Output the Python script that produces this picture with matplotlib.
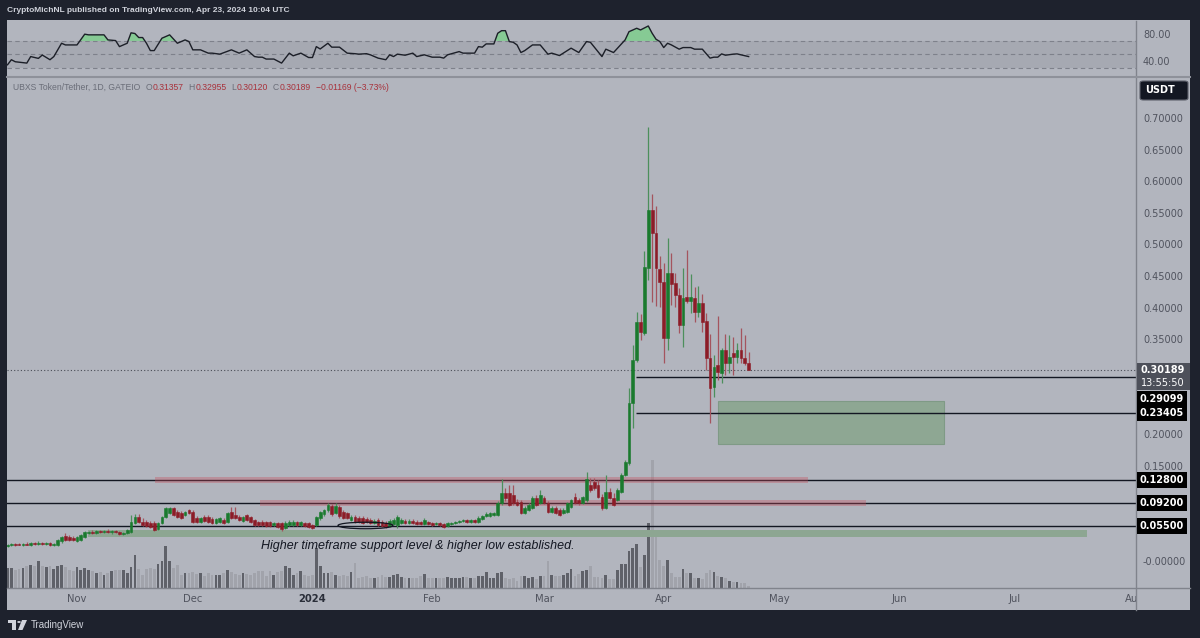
import numpy as np
import pandas as pd
import matplotlib
matplotlib.use("Agg")
import matplotlib.pyplot as plt
from matplotlib.patches import Rectangle, Ellipse, Circle, Polygon, FancyBboxPatch
from matplotlib.lines import Line2D

# ---------------- data ----------------
first_day = "2023-10-14"
origin = pd.Timestamp("2023-11-01")

opens = [
    0.0237, 0.0253, 0.0269, 0.0269, 0.0253, 0.0269, 0.0253, 0.0284, 0.0269, 0.0284,
    0.0269, 0.0284, 0.0253, 0.0253, 0.0316, 0.0395, 0.0379, 0.0363, 0.0316, 0.0332,
    0.0379, 0.0442, 0.0458, 0.0442, 0.0474, 0.0458, 0.0474, 0.0458, 0.0474, 0.0458,
    0.0427, 0.0442, 0.0458, 0.0600, 0.0695, 0.0616, 0.0616, 0.0600, 0.0600, 0.0506,
    0.0600, 0.0695, 0.0758, 0.0837, 0.0774, 0.0758, 0.0727, 0.0806, 0.0774, 0.0679,
    0.0616, 0.0695, 0.0695, 0.0664, 0.0600, 0.0616, 0.0648, 0.0616, 0.0774, 0.0727,
    0.0695, 0.0632, 0.0727, 0.0695, 0.0648, 0.0616, 0.0616, 0.0616, 0.0616, 0.0569,
    0.0600, 0.0600, 0.0521, 0.0569, 0.0569, 0.0616, 0.0569, 0.0600, 0.0600, 0.0569,
    0.0569, 0.0679, 0.0742, 0.0806, 0.0869, 0.0758, 0.0853, 0.0774, 0.0758, 0.0648,
    0.0695, 0.0679, 0.0679, 0.0664, 0.0648, 0.0600, 0.0648, 0.0616, 0.0600, 0.0553,
    0.0585, 0.0569, 0.0600, 0.0632, 0.0600, 0.0632, 0.0616, 0.0616, 0.0585, 0.0616,
    0.0600, 0.0585, 0.0600, 0.0585, 0.0553, 0.0585, 0.0600, 0.0616, 0.0632, 0.0648,
    0.0616, 0.0648, 0.0616, 0.0664, 0.0711, 0.0711, 0.0727, 0.0727, 0.0916, 0.1074,
    0.1074, 0.1043, 0.0932, 0.0932, 0.0758, 0.0806, 0.0837, 0.0995, 0.0916, 0.0995,
    0.0916, 0.0774, 0.0837, 0.0806, 0.0758, 0.0774, 0.0853, 0.1011, 0.0964, 0.0916,
    0.0964, 0.1201, 0.1248, 0.1201, 0.1011, 0.0837, 0.1090, 0.0995, 0.0964, 0.1090,
    0.1359, 0.1548, 0.2496, 0.3175, 0.3776, 0.3602, 0.4629, 0.5545, 0.5182, 0.4613,
    0.4408, 0.3523, 0.4550, 0.4392, 0.4202, 0.3728, 0.4171, 0.4107, 0.4155, 0.3934,
    0.4076, 0.3792, 0.3207, 0.2749, 0.3096, 0.2970, 0.3333, 0.3128, 0.3286, 0.3223,
    0.3333, 0.3207, 0.31357,
]
highs = [
    0.0269, 0.0284, 0.0284, 0.0284, 0.0284, 0.0300, 0.0300, 0.0300, 0.0316, 0.0300,
    0.0300, 0.0300, 0.0284, 0.0348, 0.0395, 0.0442, 0.0411, 0.0395, 0.0395, 0.0427,
    0.0474, 0.0474, 0.0490, 0.0490, 0.0490, 0.0490, 0.0506, 0.0490, 0.0490, 0.0474,
    0.0458, 0.0506, 0.0727, 0.0742, 0.0742, 0.0679, 0.0648, 0.0632, 0.0632, 0.0616,
    0.0711, 0.0853, 0.0853, 0.0853, 0.0806, 0.0790, 0.0790, 0.0821, 0.0806, 0.0711,
    0.0695, 0.0727, 0.0727, 0.0695, 0.0679, 0.0695, 0.0679, 0.0774, 0.0853, 0.0853,
    0.0727, 0.0711, 0.0742, 0.0711, 0.0664, 0.0632, 0.0648, 0.0632, 0.0632, 0.0616,
    0.0616, 0.0616, 0.0632, 0.0648, 0.0648, 0.0632, 0.0632, 0.0616, 0.0616, 0.0585,
    0.0711, 0.0790, 0.0821, 0.0916, 0.0900, 0.0916, 0.0885, 0.0806, 0.0774, 0.0727,
    0.0727, 0.0711, 0.0711, 0.0695, 0.0679, 0.0664, 0.0679, 0.0648, 0.0632, 0.0664,
    0.0679, 0.0727, 0.0679, 0.0664, 0.0664, 0.0664, 0.0648, 0.0632, 0.0679, 0.0632,
    0.0616, 0.0616, 0.0616, 0.0600, 0.0616, 0.0616, 0.0632, 0.0648, 0.0664, 0.0664,
    0.0664, 0.0664, 0.0711, 0.0727, 0.0774, 0.0774, 0.0774, 0.0948, 0.1295, 0.1153,
    0.1201, 0.1201, 0.0979, 0.0964, 0.0869, 0.0916, 0.1027, 0.1043, 0.1122, 0.1027,
    0.0948, 0.0869, 0.0869, 0.0837, 0.0837, 0.0932, 0.0979, 0.1074, 0.0995, 0.1027,
    0.1406, 0.1311, 0.1311, 0.1280, 0.1058, 0.1359, 0.1153, 0.1074, 0.1153, 0.1390,
    0.1596, 0.2733, 0.3412, 0.3934, 0.3902, 0.4897, 0.6856, 0.5798, 0.5608, 0.4818,
    0.4708, 0.5103, 0.4866, 0.4550, 0.4313, 0.4629, 0.4913, 0.4534, 0.4329, 0.4344,
    0.4218, 0.3918, 0.3586, 0.3254, 0.3870, 0.3365, 0.3586, 0.3570, 0.3539, 0.3444,
    0.3681, 0.3570, 0.32955,
]
lows = [
    0.0221, 0.0237, 0.0237, 0.0253, 0.0237, 0.0253, 0.0237, 0.0253, 0.0253, 0.0253,
    0.0253, 0.0237, 0.0237, 0.0237, 0.0284, 0.0316, 0.0316, 0.0316, 0.0300, 0.0316,
    0.0363, 0.0427, 0.0427, 0.0427, 0.0442, 0.0442, 0.0442, 0.0427, 0.0442, 0.0411,
    0.0411, 0.0427, 0.0442, 0.0585, 0.0600, 0.0553, 0.0537, 0.0521, 0.0474, 0.0490,
    0.0585, 0.0679, 0.0742, 0.0711, 0.0679, 0.0664, 0.0711, 0.0742, 0.0600, 0.0600,
    0.0600, 0.0616, 0.0600, 0.0585, 0.0585, 0.0600, 0.0585, 0.0600, 0.0664, 0.0664,
    0.0632, 0.0616, 0.0632, 0.0600, 0.0553, 0.0553, 0.0553, 0.0537, 0.0537, 0.0553,
    0.0521, 0.0474, 0.0506, 0.0553, 0.0553, 0.0553, 0.0553, 0.0537, 0.0521, 0.0506,
    0.0553, 0.0648, 0.0711, 0.0774, 0.0711, 0.0742, 0.0679, 0.0664, 0.0664, 0.0632,
    0.0600, 0.0600, 0.0585, 0.0600, 0.0585, 0.0585, 0.0553, 0.0537, 0.0521, 0.0537,
    0.0569, 0.0521, 0.0585, 0.0585, 0.0585, 0.0585, 0.0569, 0.0569, 0.0569, 0.0569,
    0.0553, 0.0569, 0.0553, 0.0521, 0.0537, 0.0569, 0.0585, 0.0600, 0.0616, 0.0600,
    0.0600, 0.0600, 0.0600, 0.0648, 0.0695, 0.0695, 0.0711, 0.0711, 0.0885, 0.0948,
    0.0869, 0.0885, 0.0869, 0.0742, 0.0742, 0.0790, 0.0821, 0.0869, 0.0900, 0.0900,
    0.0758, 0.0758, 0.0742, 0.0711, 0.0742, 0.0758, 0.0837, 0.0900, 0.0885, 0.0900,
    0.0932, 0.1090, 0.1122, 0.0995, 0.0806, 0.0821, 0.0979, 0.0869, 0.0948, 0.1074,
    0.1343, 0.1517, 0.2101, 0.3144, 0.3491, 0.3570, 0.4439, 0.4092, 0.4028, 0.4013,
    0.3128, 0.3333, 0.4044, 0.4013, 0.3602, 0.3381, 0.4076, 0.3918, 0.3776, 0.3855,
    0.3618, 0.3017, 0.2180, 0.2591, 0.2859, 0.2812, 0.2938, 0.2970, 0.2938, 0.3128,
    0.3128, 0.3096, 0.30120,
]
closes = [
    0.0253, 0.0269, 0.0253, 0.0253, 0.0269, 0.0253, 0.0284, 0.0269, 0.0284, 0.0269,
    0.0284, 0.0253, 0.0269, 0.0332, 0.0379, 0.0332, 0.0332, 0.0332, 0.0379, 0.0411,
    0.0458, 0.0458, 0.0442, 0.0474, 0.0458, 0.0474, 0.0458, 0.0474, 0.0458, 0.0427,
    0.0442, 0.0490, 0.0616, 0.0695, 0.0616, 0.0569, 0.0553, 0.0537, 0.0490, 0.0600,
    0.0695, 0.0837, 0.0837, 0.0727, 0.0695, 0.0679, 0.0774, 0.0758, 0.0616, 0.0616,
    0.0679, 0.0632, 0.0616, 0.0600, 0.0664, 0.0679, 0.0600, 0.0758, 0.0679, 0.0679,
    0.0648, 0.0695, 0.0648, 0.0616, 0.0569, 0.0569, 0.0569, 0.0553, 0.0553, 0.0600,
    0.0537, 0.0506, 0.0600, 0.0616, 0.0616, 0.0569, 0.0616, 0.0553, 0.0537, 0.0521,
    0.0695, 0.0774, 0.0806, 0.0885, 0.0742, 0.0869, 0.0711, 0.0679, 0.0679, 0.0695,
    0.0616, 0.0616, 0.0600, 0.0616, 0.0600, 0.0632, 0.0569, 0.0553, 0.0537, 0.0632,
    0.0648, 0.0695, 0.0648, 0.0600, 0.0632, 0.0600, 0.0585, 0.0585, 0.0648, 0.0585,
    0.0569, 0.0600, 0.0569, 0.0537, 0.0600, 0.0600, 0.0616, 0.0632, 0.0648, 0.0616,
    0.0648, 0.0616, 0.0679, 0.0711, 0.0742, 0.0758, 0.0758, 0.0916, 0.1074, 0.0995,
    0.0885, 0.0916, 0.0885, 0.0758, 0.0837, 0.0885, 0.0995, 0.0885, 0.1043, 0.0916,
    0.0774, 0.0837, 0.0758, 0.0727, 0.0806, 0.0916, 0.0964, 0.0916, 0.0916, 0.1011,
    0.1295, 0.1122, 0.1153, 0.1011, 0.0837, 0.1090, 0.0995, 0.0885, 0.1122, 0.1359,
    0.1564, 0.2496, 0.3175, 0.3776, 0.3618, 0.4645, 0.5545, 0.5182, 0.4629, 0.4408,
    0.3523, 0.4550, 0.4376, 0.4202, 0.3728, 0.4155, 0.4107, 0.4171, 0.3934, 0.4076,
    0.3776, 0.3207, 0.2733, 0.3065, 0.2986, 0.3333, 0.3128, 0.3223, 0.3223, 0.3333,
    0.3207, 0.3128, 0.30189,
]
volumes = [
    20, 20, 18, 19, 20, 22, 23, 22, 27, 22, 21, 22, 19, 22, 23, 21, 18, 17, 21, 18,
    20, 18, 17, 15, 16, 13, 15, 17, 18, 18, 18, 15, 21, 33, 19, 13, 19, 20, 19, 24,
    27, 42, 27, 20, 23, 13, 15, 15, 16, 14, 15, 12, 15, 13, 13, 13, 15, 18, 16, 14,
    13, 15, 14, 13, 15, 17, 17, 12, 17, 13, 16, 17, 22, 20, 13, 15, 17, 13, 12, 13,
    40, 22, 15, 15, 16, 13, 12, 13, 12, 16, 25, 10, 11, 12, 10, 10, 11, 13, 11, 11,
    13, 14,
    11, 10, 10, 10, 10, 12, 14, 10, 10, 10, 10, 10, 11, 10, 10, 10, 11, 11, 10, 10,
    12, 12, 16, 10, 10, 15, 16, 10, 9, 10, 7, 12, 12, 10, 11, 9, 12, 12, 27, 13,
    12, 12, 13, 15, 19, 12, 14, 17, 18, 22, 11, 11, 10, 13, 9, 9, 18, 24, 24, 37,
    40, 44, 21, 33, 65, 128, 58, 28, 22, 28, 15, 11, 11, 19, 15, 15, 10, 10, 9, 15,
    18, 16, 12, 11, 10, 7, 6, 6, 5, 5, 2,
]
# RSI: (days after 2023-11-01, value)
rsi_points = [
    (-18, 34.5), (-17, 42), (-16, 39), (-13, 37), (-12, 46.7), (-10, 44), (-9, 49),
    (-7, 42), (-6, 46.7), (-4, 66.5), (-3, 64), (0, 64), (2, 80), (3, 79), (7, 79),
    (8, 71.5), (10, 70.5), (11, 61.5), (13, 66.5), (14, 82), (15, 81), (16, 75),
    (17, 75), (18, 66.5), (19, 55.6), (20, 55.6), (22, 74), (24, 79), (26, 66.5),
    (28, 71.5), (29, 69), (30, 56.7), (32, 56.7), (34, 51.8), (35, 51.8), (37, 50.3),
    (40, 56.7), (42, 51.8), (44, 56.7), (46, 46.7), (47, 45.8), (48, 45.8), (49, 43),
    (51, 43), (53, 37), (55, 51.8), (56, 47.8), (58, 51.8), (60, 45.3), (61, 45.3),
    (62, 61.5), (63, 58), (65, 66.5), (66, 60.7), (68, 60.7), (70, 51.8), (72, 51),
    (73, 50.3), (75, 51), (76, 49.3), (78, 44.4), (80, 42), (81, 49.3), (82, 46.7),
    (83, 50.3), (85, 48.7), (87, 51.8), (88, 46.7), (90, 49.3), (92, 45.8), (94, 45.8),
    (95, 44.4), (96, 49.3), (99, 54.1), (100, 51.8), (103, 51.8), (104, 61.5),
    (105, 60.7), (106, 65.5), (108, 65.5), (109, 81.4), (110, 85.2), (111, 85.2),
    (112, 69), (113, 68), (114, 64), (115, 52.7), (116, 55.6), (118, 64), (120, 64),
    (122, 50.3), (123, 51.8), (125, 48.2), (128, 59.2), (130, 52.7), (132, 69),
    (133, 68), (136, 46.7), (137, 57.7), (139, 52.7), (142, 71.5), (143, 83.7),
    (145, 88.8), (146, 86.3), (148, 92.2), (149, 81.4), (150, 72.5), (151, 69),
    (152, 60.1), (153, 66.5), (154, 64), (156, 57.7), (157, 60.1), (159, 60.1),
    (160, 57.7), (162, 57.7), (164, 44.4), (165, 45.8), (166, 45.8), (167, 50.7),
    (168, 48.7), (170, 50.3), (171, 50.7), (172, 49.3), (174, 46.7),
]
month_labels = ["Nov", "Dec", "2024", "Feb", "Mar", "Apr", "May", "Jun", "Jul", "Aug"]
# visible price-scale labels (the others are hidden behind the level tags)
price_ticks = [0.0, 0.15, 0.20, 0.35, 0.40, 0.45, 0.50, 0.55, 0.60, 0.65, 0.70]
full_levels = [0.128, 0.092, 0.055]
short_levels = [0.29099, 0.23405]
last_price = 0.30189
symbol_text = "UBXS Token/Tether, 1D, GATEIO"
ohlc_text = [("O", "0.31357"), ("H", "0.32955"), ("L", "0.30120"), ("C", "0.30189")]
change_text = "\u22120.01169 (\u22123.73%)"

# ---------------- derived ----------------
dates = pd.date_range(first_day, periods=len(opens), freq="D")
x = np.asarray((dates - origin).days, dtype=float)
o, h, l, c = (np.array(v, dtype=float) for v in (opens, highs, lows, closes))
up = c >= o
rx = np.array([p[0] for p in rsi_points], dtype=float)
rv = np.array([p[1] for p in rsi_points], dtype=float)
month_starts = pd.date_range("2023-11-01", "2024-08-01", freq="MS")
mx = np.asarray((month_starts - origin).days, dtype=float)

# ---------------- layout helpers ----------------
W, H = 1200, 638
BG = "#b2b5be"
DARK = "#1e222d"
INK = "#131722"
AXTXT = "#50535e"


def frect(x0, y0, x1, y1):
    return [x0 / W, 1 - y1 / H, (x1 - x0) / W, (y1 - y0) / H]


def fx(px):
    return px / W


def fy(py):
    return 1 - py / H


def day_at(px):
    return (px - 77) / 3.86


XL = (day_at(7), day_at(1136))

fig = plt.figure(figsize=(W / 100, H / 100), dpi=100)
fig.patch.set_facecolor(DARK)
fig.add_artist(Rectangle((fx(7), fy(610)), (1190 - 7) / W, (610 - 20) / H,
                         transform=fig.transFigure, fc=BG, ec="none", zorder=-1))

# ---------------- RSI pane ----------------
ax_r = fig.add_axes(frect(7, 21, 1136, 76))
ax_r.set_facecolor("none")
ax_r.set_xlim(XL)
ax_r.set_ylim(17.8, 99.6)
ax_r.axhspan(30, 70, color="#a6a9b2", lw=0, zorder=0)
for lv in (70, 50, 30):
    ax_r.axhline(lv, color="#7e818b", lw=0.8, dashes=(4, 3), zorder=1)
ax_r.fill_between(rx, rv, 70, where=rv > 70, interpolate=True, color="#7bd08a",
                  alpha=0.8, lw=0, zorder=2)
ax_r.plot(rx, rv, color="#1c1f28", lw=1.0, zorder=3)
for s in ax_r.spines.values():
    s.set_visible(False)
ax_r.set_xticks([])
ax_r.yaxis.tick_right()
ax_r.set_yticks([40, 80])
ax_r.set_yticklabels(["40.00", "80.00"])
ax_r.tick_params(axis="y", length=0, pad=5, labelsize=7, labelcolor=AXTXT)

# ---------------- volume ----------------
ax_v = fig.add_axes(frect(7, 78, 1136, 588))
ax_v.set_zorder(1)
ax_v.set_xlim(XL)
ax_v.set_ylim(0, max(volumes) * 3.98)
ax_v.axis("off")
ax_v.bar(x, volumes, width=0.72, color=np.where(up, "#5f6169", "#a1a3ab"), lw=0)

# ---------------- price pane ----------------
ax = fig.add_axes(frect(7, 78, 1136, 588))
ax.set_zorder(2)
ax.patch.set_visible(False)
ax.set_xlim(XL)
ax.set_ylim(-0.04265, 0.76303)
for s in ax.spines.values():
    s.set_visible(False)
ax.set_xticks([])
ax.yaxis.tick_right()
ax.set_yticks(price_ticks)
ax.set_yticklabels(["-0.00000" if v == 0 else f"{v:.5f}" for v in price_ticks])
ax.tick_params(axis="y", length=0, pad=5, labelsize=7, labelcolor=AXTXT)

# support band (green) and zone box
ax.add_patch(Rectangle((day_at(88), 0.0379), day_at(1087) - day_at(88), 0.0111,
                       fc="#8da692", ec="none", zorder=1))
ax.add_patch(Rectangle((day_at(718), 0.1848), day_at(944) - day_at(718), 0.0680,
                       fc="#8ea793", ec="#7f9a86", lw=0.8, zorder=1))

# horizontal levels
for lv in full_levels:
    ax.axhline(lv, color=INK, lw=1.0, zorder=2)
for lv in short_levels:
    ax.hlines(lv, day_at(636), XL[1], color=INK, lw=1.0, zorder=2)
ax.axhline(last_price, color="#4a4d57", lw=0.8, ls=(0, (1, 2)), zorder=2)

# red resistance bands
ax.add_patch(Rectangle((day_at(155), 0.1232), day_at(808) - day_at(155), 0.0095,
                       fc=(0.78, 0.30, 0.36, 0.35), ec="none", zorder=2.5))
ax.add_patch(Rectangle((day_at(260), 0.0869), day_at(866) - day_at(260), 0.0095,
                       fc=(0.78, 0.30, 0.36, 0.35), ec="none", zorder=2.5))

# candles
wick_col = np.where(up, "#4c8f5c", "#a4545e")
body_col = np.where(up, "#1a7a2e", "#8c1c27")
ax.vlines(x, l, h, colors=wick_col, lw=0.9, zorder=4)
ax.bar(x, np.abs(c - o), bottom=np.minimum(o, c), width=0.72, color=body_col,
       edgecolor=body_col, lw=0.4, zorder=5)

# ellipse marking the higher low
ax.add_patch(Ellipse((day_at(365.5), 0.0561), day_at(393) - day_at(338), 0.0103,
                     fill=False, ec=INK, lw=0.9, zorder=6))
ax.text(day_at(261), 0.0237, "Higher timeframe support level & higher low established.",
        family="Liberation Sans", style="italic", fontsize=9, color=INK,
        ha="left", va="center", zorder=6)

# ---------------- time axis ----------------
ax_t = fig.add_axes(frect(7, 589, 1136, 610))
ax_t.set_xlim(XL)
ax_t.set_ylim(0, 1)
ax_t.axis("off")
for d, lab in zip(mx, month_labels):
    bold = lab == "2024"
    ax_t.text(d, 0.5, lab, ha="center", va="center", fontsize=7.2,
              color="#2a2e39" if bold else AXTXT, fontweight="bold" if bold else "normal",
              clip_on=True)

# ---------------- separators ----------------
SEP = "#80838c"
fig.add_artist(Line2D([fx(7), fx(1190)], [fy(588), fy(588)], color=SEP, lw=1.0, zorder=5))
fig.add_artist(Line2D([fx(1136), fx(1136)], [fy(21), fy(610)], color=SEP, lw=1.0, zorder=5))
fig.add_artist(Line2D([fx(7), fx(1190)], [fy(77), fy(77)], color="#8e919a", lw=1.5, zorder=5))

# ---------------- price-axis labels ----------------
def price_box(py, txt):
    fig.text(fx(1162), fy(py), txt, ha="center", va="center", color="white", fontsize=7,
             fontweight="bold", zorder=10,
             bbox=dict(boxstyle="square,pad=0.28", fc="black", ec="none"))


fig.add_artist(Rectangle((fx(1137), fy(390)), 53 / W, 27 / H, transform=fig.transFigure,
                         fc="#4d505a", ec="none", zorder=9))
fig.text(fx(1163), fy(370), "0.30189", ha="center", va="center", color="white",
         fontsize=7, fontweight="bold", zorder=10)
fig.text(fx(1163), fy(382.5), "13:55:50", ha="center", va="center", color="white",
         fontsize=7, zorder=10)
price_box(398.5, "0.29099")
price_box(413.5, "0.23405")
price_box(480, "0.12800")
price_box(503, "0.09200")
price_box(526, "0.05500")

fig.add_artist(FancyBboxPatch((fx(1140), fy(100)), 48 / W, 19 / H,
                              boxstyle="round,pad=0,rounding_size=0.003",
                              transform=fig.transFigure, fc=INK, ec="#5d606b", lw=0.8, zorder=9))
fig.text(fx(1145), fy(90), "USDT", ha="left", va="center", color="white", fontsize=7,
         fontweight="bold", zorder=10)

# ---------------- header / legend ----------------
fig.text(fx(7), fy(10), "CryptoMichNL published on TradingView.com, Apr 23, 2024 10:04 UTC",
         color="#d1d4dc", fontsize=6.0, family="Liberation Sans", fontweight="bold",
         ha="left", va="center")

LEG = "#6a6d78"
RED = "#a8323c"
renderer = fig.canvas.get_renderer()
pieces = [(symbol_text, LEG, 5.0)]
for k, v in ohlc_text:
    pieces += [(k, LEG, 0.5), (v, RED, 5.0)]
pieces.append((change_text, RED, 0.0))
xpos = 13.0
for txt, col, gap in pieces:
    t = fig.text(fx(xpos), fy(87), txt, color=col, fontsize=6.2, family="Liberation Sans",
                 ha="left", va="center", zorder=10)
    xpos += t.get_window_extent(renderer).width + gap

# ---------------- TradingView logo ----------------
LOGO = "#d1d4dc"
fig.add_artist(Rectangle((fx(8), fy(623)), 8 / W, 3 / H, transform=fig.transFigure,
                         fc=LOGO, ec="none"))
fig.add_artist(Rectangle((fx(12), fy(630)), 3.5 / W, 10 / H, transform=fig.transFigure,
                         fc=LOGO, ec="none"))
fig.add_artist(Circle((fx(19), fy(622)), 1.8 / W, transform=fig.transFigure, fc=LOGO, ec="none"))
fig.add_artist(Polygon([(fx(22), fy(620)), (fx(27), fy(620)), (fx(22.5), fy(630)), (fx(18), fy(630))],
                       closed=True, transform=fig.transFigure, fc=LOGO, ec="none"))
fig.text(fx(31), fy(625), "TradingView", color=LOGO, fontsize=7, family="Liberation Sans",
         ha="left", va="center")

fig.savefig("out.png", dpi=100, facecolor=fig.get_facecolor())
